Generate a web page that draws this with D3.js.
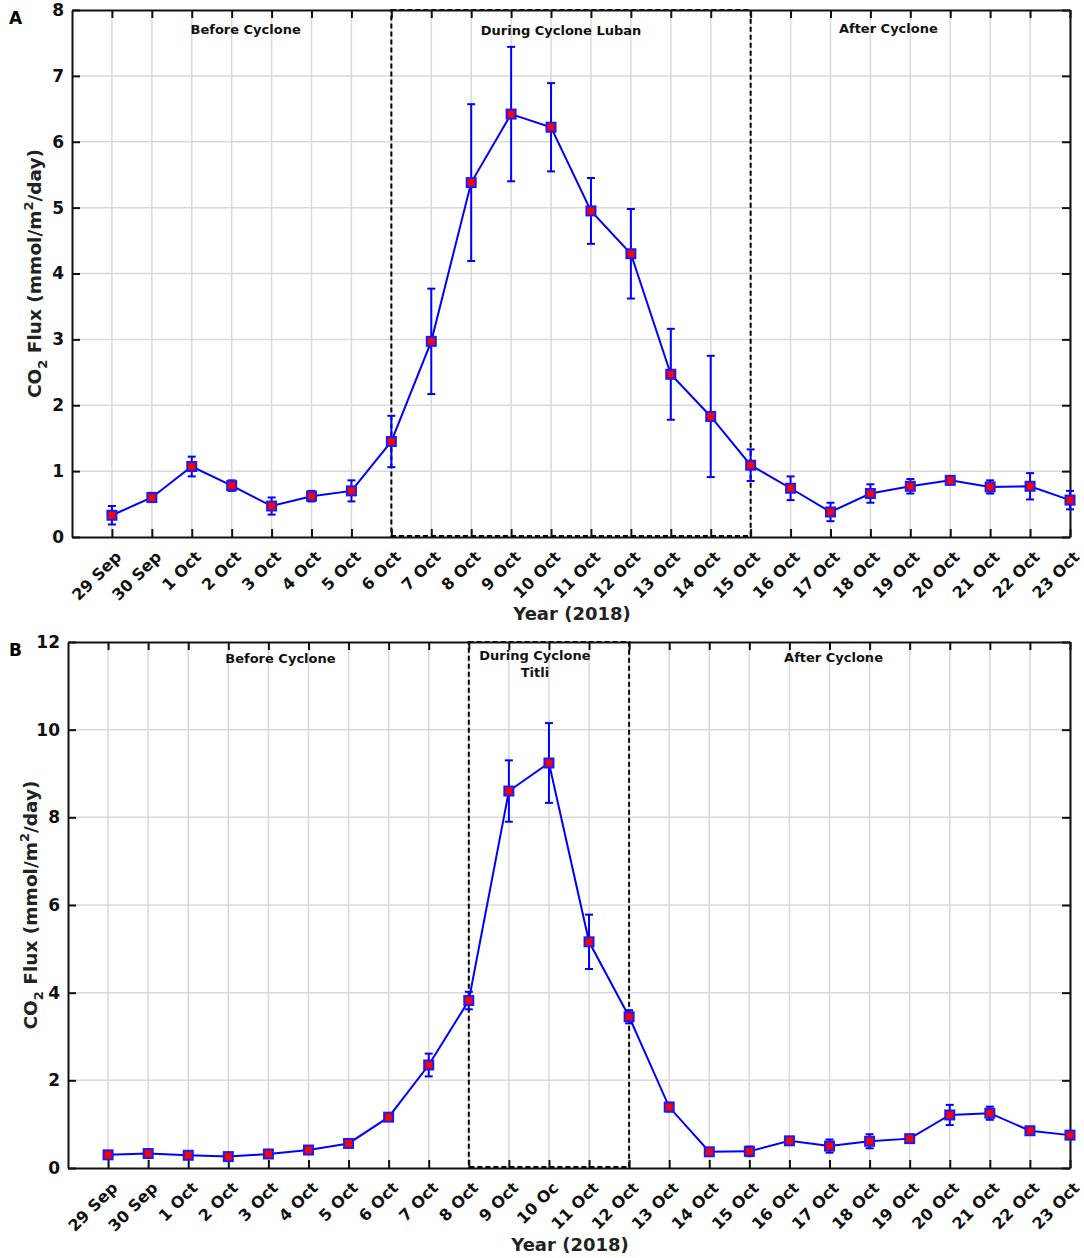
<!DOCTYPE html>
<html>
<head>
<meta charset="utf-8">
<script src="https://cdn.jsdelivr.net/npm/d3@7"></script>
<style>
  body { margin: 0; background: #fff; }
  svg text { font-family: "DejaVu Sans", sans-serif; font-weight: bold; }
</style>
</head>
<body>
<div id="chart-area"></div>
<script>
// day labels on the x axis (same for both panels, except the clipped "10 Oc" in B)
var daysA = ["29 Sep", "30 Sep", "1 Oct", "2 Oct", "3 Oct", "4 Oct", "5 Oct", "6 Oct", "7 Oct", "8 Oct",
  "9 Oct", "10 Oct", "11 Oct", "12 Oct", "13 Oct", "14 Oct", "15 Oct", "16 Oct", "17 Oct", "18 Oct",
  "19 Oct", "20 Oct", "21 Oct", "22 Oct", "23 Oct"];
var daysB = ["29 Sep", "30 Sep", "1 Oct", "2 Oct", "3 Oct", "4 Oct", "5 Oct", "6 Oct", "7 Oct", "8 Oct",
  "9 Oct", "10 Oc", "11 Oct", "12 Oct", "13 Oct", "14 Oct", "15 Oct", "16 Oct", "17 Oct", "18 Oct",
  "19 Oct", "20 Oct", "21 Oct", "22 Oct", "23 Oct"];

// panel A: cyclone Luban
var fluxA = [0.33, 0.60, 1.07, 0.78, 0.47, 0.62, 0.70, 1.45, 2.97, 5.38, 6.42, 6.22, 4.95, 4.30, 2.47,
  1.83, 1.09, 0.74, 0.38, 0.66, 0.77, 0.86, 0.76, 0.77, 0.56];
var errA = [0.14, 0.07, 0.15, 0.08, 0.13, 0.08, 0.16, 0.39, 0.80, 1.19, 1.02, 0.67, 0.50, 0.68, 0.69,
  0.92, 0.24, 0.18, 0.14, 0.14, 0.11, 0.06, 0.10, 0.20, 0.14];
var yTicksA = [0, 1, 2, 3, 4, 5, 6, 7, 8];

// panel B: cyclone Titli
var fluxB = [0.30, 0.33, 0.29, 0.26, 0.32, 0.41, 0.56, 1.16, 2.35, 3.82, 8.60, 9.24, 5.16, 3.45, 1.39,
  0.37, 0.38, 0.62, 0.50, 0.61, 0.67, 1.21, 1.25, 0.85, 0.75];
var errB = [0.05, 0.05, 0.04, 0.04, 0.08, 0.06, 0.06, 0.07, 0.26, 0.20, 0.70, 0.91, 0.62, 0.15, 0.10,
  0.04, 0.11, 0.06, 0.15, 0.16, 0.07, 0.23, 0.15, 0.05, 0.04];
var yTicksB = [0, 2, 4, 6, 8, 10, 12];

var svg = d3.select("#chart-area")
  .append("svg")
    .attr("width", 1084)
    .attr("height", 1258);

function drawPanel(opt) {
  var x = d3.scaleLinear().domain([-1, opt.days.length - 1]).range([opt.left, opt.right]);
  var y = d3.scaleLinear().domain([0, opt.yMax]).range([opt.bottom, opt.top]);
  var idx = d3.range(opt.days.length);

  var g = svg.append("g");

  // grid
  g.selectAll(".vgrid").data(idx).enter().append("line")
    .attr("x1", d => x(d)).attr("x2", d => x(d))
    .attr("y1", opt.top).attr("y2", opt.bottom)
    .attr("stroke", "#d9d9d9").attr("stroke-width", 1.5);
  g.selectAll(".hgrid").data(opt.yTicks.slice(1, -1)).enter().append("line")
    .attr("x1", opt.left).attr("x2", opt.right)
    .attr("y1", d => y(d)).attr("y2", d => y(d))
    .attr("stroke", "#d9d9d9").attr("stroke-width", 1.5);

  // dashed box for cyclone period
  g.append("rect")
    .attr("x", x(opt.during[0]))
    .attr("y", opt.top)
    .attr("width", x(opt.during[1]) - x(opt.during[0]))
    .attr("height", opt.bottom - opt.top - 1)
    .attr("fill", "none")
    .attr("stroke", "#000")
    .attr("stroke-width", 2)
    .attr("stroke-dasharray", "5,3");

  // axes
  var leftAxis = d3.axisLeft(y).tickValues(opt.yTicks).tickSizeInner(-8).tickSizeOuter(0).tickPadding(8);
  var rightAxis = d3.axisRight(y).tickValues(opt.yTicks).tickSizeInner(-8).tickSizeOuter(0).tickFormat("");
  var bottomAxis = d3.axisBottom(x).tickValues(idx).tickSizeInner(-8).tickSizeOuter(0)
    .tickFormat(i => opt.days[i]);
  var topAxis = d3.axisTop(x).tickValues(idx).tickSizeInner(-8).tickSizeOuter(0).tickFormat("");

  var axes = [
    g.append("g").attr("transform", "translate(" + opt.left + ",0)").call(leftAxis),
    g.append("g").attr("transform", "translate(" + opt.right + ",0)").call(rightAxis),
    g.append("g").attr("transform", "translate(0," + opt.bottom + ")").call(bottomAxis),
    g.append("g").attr("transform", "translate(0," + opt.top + ")").call(topAxis)
  ];
  axes.forEach(a => {
    a.select(".domain").attr("stroke", "#111").attr("stroke-width", 2);
    a.selectAll(".tick line").attr("stroke", "#111").attr("stroke-width", 2);
    a.selectAll(".tick text").attr("fill", "#111");
  });
  axes[0].selectAll(".tick text").attr("font-size", "17px");
  axes[2].selectAll(".tick text")
    .attr("font-size", "16px")
    .attr("text-anchor", "end")
    .attr("x", 0).attr("y", 0).attr("dy", "0.35em")
    .attr("transform", "translate(6,17) rotate(-45)");

  // labels of periods
  opt.notes.forEach(n => {
    var t = g.append("text")
      .attr("x", x(n.at))
      .attr("y", opt.top + n.dy)
      .attr("text-anchor", "middle")
      .attr("font-size", "13px")
      .attr("fill", "#111");
    n.lines.forEach((l, k) => {
      t.append("tspan").attr("x", x(n.at)).attr("dy", k ? 17 : 0).text(l);
    });
  });

  // panel letter
  svg.append("text")
    .attr("x", 9).attr("y", opt.top + 14)
    .attr("font-size", "17px")
    .text(opt.letter);

  // axis titles
  svg.append("text")
    .attr("x", (opt.left + opt.right) / 2 + 1)
    .attr("y", opt.bottom + 83)
    .attr("text-anchor", "middle")
    .attr("font-size", "18px")
    .attr("fill", "#222")
    .text("Year (2018)");

  var yt = svg.append("text")
    .attr("transform", "translate(" + opt.titleX + "," + (opt.top + opt.bottom) / 2 + ") rotate(-90)")
    .attr("text-anchor", "middle")
    .attr("font-size", "18.5px")
    .attr("fill", "#222");
  yt.append("tspan").text("CO");
  yt.append("tspan").attr("font-size", "13px").attr("dy", 6).text("2");
  yt.append("tspan").attr("dy", -6).text(" Flux (mmol/m");
  yt.append("tspan").attr("font-size", "13px").attr("dy", -8).text("2");
  yt.append("tspan").attr("dy", 8).text("/day)");

  // series line
  var line = d3.line().x((d, i) => x(i)).y(d => y(d));
  g.append("path")
    .datum(opt.flux)
    .attr("d", line)
    .attr("fill", "none")
    .attr("stroke", "#0000ff")
    .attr("stroke-width", 2);

  // error bars
  var eb = g.selectAll(".err").data(opt.flux).enter().append("g");
  eb.append("line")
    .attr("x1", (d, i) => x(i)).attr("x2", (d, i) => x(i))
    .attr("y1", (d, i) => y(d - opt.err[i])).attr("y2", (d, i) => y(d + opt.err[i]))
    .attr("stroke", "#0000ff").attr("stroke-width", 2);
  [-1, 1].forEach(s => {
    eb.append("line")
      .attr("x1", (d, i) => x(i) - 4).attr("x2", (d, i) => x(i) + 4)
      .attr("y1", (d, i) => y(d + s * opt.err[i])).attr("y2", (d, i) => y(d + s * opt.err[i]))
      .attr("stroke", "#0000ff").attr("stroke-width", 2);
  });

  // markers
  g.selectAll(".mk").data(opt.flux).enter().append("rect")
    .attr("x", (d, i) => x(i) - 4.5)
    .attr("y", d => y(d) - 4.5)
    .attr("width", 9).attr("height", 9)
    .attr("fill", "#ff0000")
    .attr("stroke", "#1a1aff")
    .attr("stroke-width", 2);
}

drawPanel({
  letter: "A", days: daysA, flux: fluxA, err: errA, yTicks: yTicksA, yMax: 8,
  left: 72, right: 1070, top: 10, bottom: 537, titleX: 41,
  during: [7, 16],
  notes: [
    {at: 3.35, dy: 24, lines: ["Before Cyclone"]},
    {at: 11.25, dy: 25, lines: ["During Cyclone Luban"]},
    {at: 19.45, dy: 23, lines: ["After Cyclone"]}
  ]
});

drawPanel({
  letter: "B", days: daysB, flux: fluxB, err: errB, yTicks: yTicksB, yMax: 12,
  left: 68, right: 1070, top: 642, bottom: 1168, titleX: 37,
  during: [9, 13],
  notes: [
    {at: 4.3, dy: 21, lines: ["Before Cyclone"]},
    {at: 10.65, dy: 18, lines: ["During Cyclone", "Titli"]},
    {at: 18.1, dy: 20, lines: ["After Cyclone"]}
  ]
});
</script>
</body>
</html>
